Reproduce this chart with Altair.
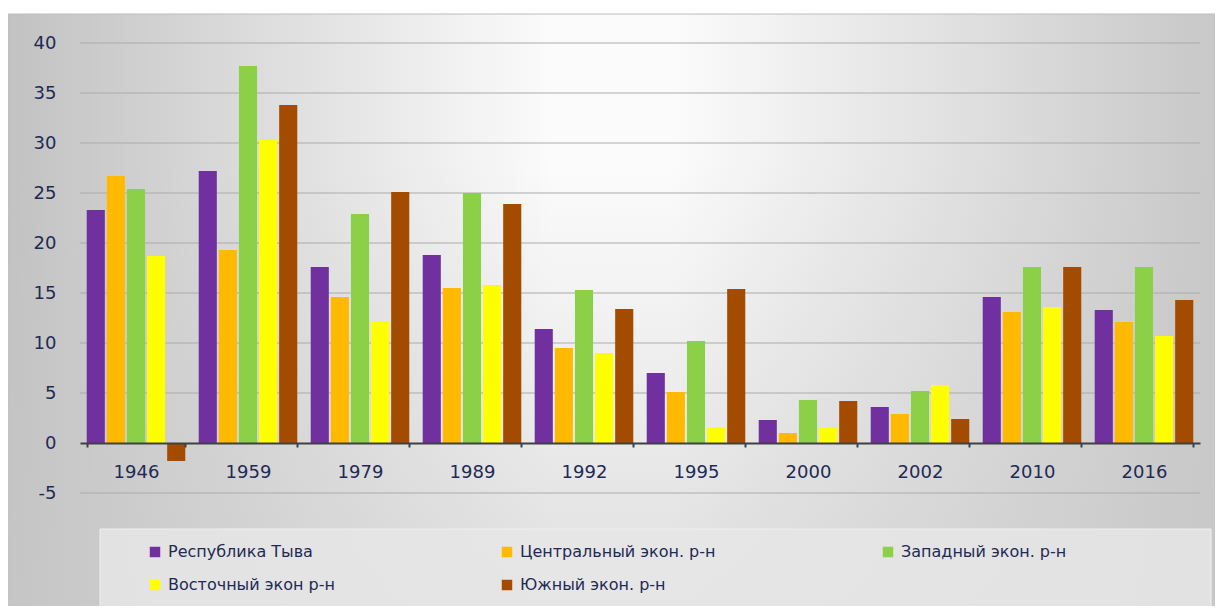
import altair as alt
import pandas as pd

years = ["1946", "1959", "1979", "1989", "1992", "1995", "2000", "2002", "2010", "2016"]
series = ["Республика Тыва", "Центральный экон. р-н", "Западный экон. р-н",
          "Восточный экон р-н", "Южный экон. р-н"]
colors = ["#7030A0", "#FFBA00", "#8CD048", "#FFFF00", "#A34C00"]

tyva =    [23.3, 27.2, 17.6, 18.8, 11.4, 7.0, 2.3, 3.6, 14.6, 13.3]
central = [26.7, 19.3, 14.6, 15.5, 9.5, 5.1, 1.0, 2.9, 13.1, 12.1]
western = [25.4, 37.7, 22.9, 25.0, 15.3, 10.2, 4.3, 5.2, 17.6, 17.6]
eastern = [18.7, 30.3, 12.1, 15.8, 9.0, 1.5, 1.5, 5.8, 13.6, 10.7]
southern = [-1.8, 33.8, 25.1, 23.9, 13.4, 15.4, 4.2, 2.4, 17.6, 14.3]

grid_values = [-5, 5, 10, 15, 20, 25, 30, 35, 40]
y_ticks = [-5, 0, 5, 10, 15, 20, 25, 30, 35, 40]

rows = []
for name, vals in zip(series, [tyva, central, western, eastern, southern]):
    for y, v in zip(years, vals):
        rows.append({"year": y, "series": name, "value": v})
df = pd.DataFrame(rows)

W, H = 1120, 450
FONT = "DejaVu Sans"
TXT = "#1F2A55"

one = pd.DataFrame({"a": [0]})

bg = alt.Chart(one).mark_rect(
    fill=alt.Gradient(
        gradient="linear",
        stops=[alt.GradientStop(color="#c2c2c2", offset=0),
               alt.GradientStop(color="#fbfbfb", offset=0.45),
               alt.GradientStop(color="#fbfbfb", offset=0.55),
               alt.GradientStop(color="#c8c8c8", offset=1)],
        x1=0, x2=1, y1=0, y2=0),
    stroke="#bdbdbd", strokeWidth=1,
).encode(x=alt.value(-72), x2=alt.value(1135), y=alt.value(-29), y2=alt.value(565))

bg2 = alt.Chart(one).mark_rect(
    fill=alt.Gradient(
        gradient="linear",
        stops=[alt.GradientStop(color="rgba(200,200,200,0)", offset=0.25),
               alt.GradientStop(color="rgba(200,200,200,0.55)", offset=1)],
        x1=0, x2=0, y1=0, y2=1),
).encode(x=alt.value(-72), x2=alt.value(1135), y=alt.value(-29), y2=alt.value(565))

legend_box = alt.Chart(one).mark_rect(
    fill="#e6e6e6", fillOpacity=0.85, stroke="#efefef", strokeWidth=1
).encode(x=alt.value(20), x2=alt.value(1131), y=alt.value(486), y2=alt.value(565))

grid = alt.Chart(pd.DataFrame({"g": grid_values})).mark_rule(
    color="#ababab", strokeWidth=1
).encode(y=alt.Y("g:Q", scale=alt.Scale(domain=[-5, 40], nice=False, zero=False)))

bars = alt.Chart(df).mark_bar().encode(
    x=alt.X("year:N", sort=years, title=None,
            scale=alt.Scale(paddingInner=0.12, paddingOuter=0.06),
            axis=alt.Axis(offset=-50, labelAngle=0, domainColor="#404040", domainWidth=2,
                          tickColor="#404040", tickWidth=2, tickSize=4, tickBand="extent",
                          labelFont=FONT, labelFontSize=18, labelColor=TXT, labelPadding=16,
                          zindex=1)),
    xOffset=alt.XOffset("series:N", sort=series, scale=alt.Scale(paddingInner=0.1)),
    y=alt.Y("value:Q", title=None,
            scale=alt.Scale(domain=[-5, 40], nice=False, zero=False),
            axis=alt.Axis(values=y_ticks, grid=False,
                          labelExpr="replace(datum.label, '−', '-')",
                          domain=False, ticks=False, labelFont=FONT, labelFontSize=18,
                          labelColor=TXT, labelPadding=24, zindex=1)),
    color=alt.Color("series:N", sort=series,
                    scale=alt.Scale(domain=series, range=colors),
                    legend=alt.Legend(orient="none", legendX=67, legendY=501, columns=3,
                                      direction="horizontal", title=None,
                                      symbolType="square", symbolSize=110,
                                      symbolStrokeWidth=0, symbolOpacity=1,
                                      labelFont=FONT, labelFontSize=16, labelColor=TXT,
                                      labelLimit=400, columnPadding=164, rowPadding=17,
                                      labelOffset=5)),
)

chart = alt.layer(bg, bg2, legend_box, grid, bars).properties(
    width=W, height=H,
    padding={"left": 72, "top": 35, "right": 15, "bottom": 113},
    autosize=alt.AutoSizeParams(type="none"),
    background="white",
).configure_view(stroke=None)

chart.save("out.html", embed_options={"renderer": "svg", "actions": False})
